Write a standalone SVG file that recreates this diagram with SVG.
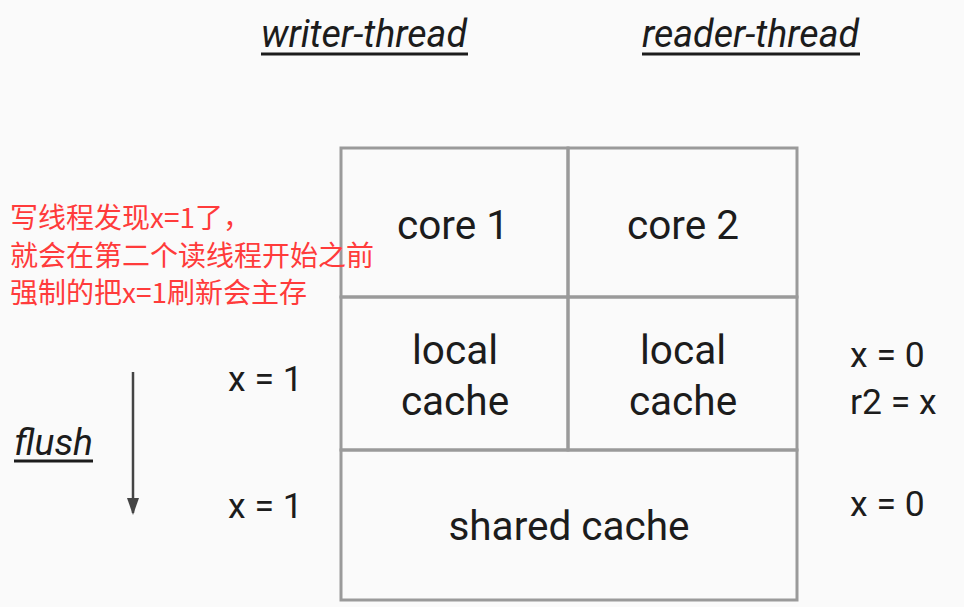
<svg xmlns="http://www.w3.org/2000/svg" width="964" height="607" viewBox="0 0 964 607">
<style>
.t{font-family:Roboto,"Liberation Sans",sans-serif;fill:#1c1c1c;}
.big{font-size:40.5px;}
.mid{font-size:35.5px;}
.ttl{font-size:38px;font-style:italic;}
.box{fill:none;stroke:#9a9a9a;stroke-width:3;}
.ul{stroke:#1c1c1c;stroke-width:3;}
.cn{font-family:"Noto Sans CJK SC",sans-serif;font-size:28px;fill:#ff3b3b;}
</style>
<defs>
<marker id="ah" markerWidth="17" markerHeight="12" refX="15" refY="6" orient="auto" markerUnits="userSpaceOnUse" viewBox="0 0 17 12">
<path d="M0,0 L17,6 L0,12 Z" fill="#444"/>
</marker>
</defs>
<rect width="964" height="607" fill="#fafafa"/>
<g id="title-writer">
<text class="t ttl" x="261" y="47" textLength="206" lengthAdjust="spacingAndGlyphs">writer-thread</text>
<line class="ul" x1="261" y1="54" x2="468" y2="54"/>
</g>
<g id="title-reader">
<text class="t ttl" x="642" y="47" textLength="217" lengthAdjust="spacingAndGlyphs">reader-thread</text>
<line class="ul" x1="642" y1="54" x2="860" y2="54"/>
</g>
<g id="core1">
<rect class="box" x="341" y="148" width="227" height="149"/>
<text class="t big" x="453" y="239" text-anchor="middle">core 1</text>
</g>
<g id="core2">
<rect class="box" x="568" y="148" width="229" height="149"/>
<text class="t big" x="683" y="239" text-anchor="middle">core 2</text>
</g>
<g id="local1">
<rect class="box" x="341" y="297" width="227" height="153"/>
<text class="t big" x="455" y="364" text-anchor="middle">local</text>
<text class="t big" x="455" y="415" text-anchor="middle">cache</text>
</g>
<g id="local2">
<rect class="box" x="568" y="297" width="229" height="153"/>
<text class="t big" x="683" y="364" text-anchor="middle">local</text>
<text class="t big" x="683" y="415" text-anchor="middle">cache</text>
</g>
<g id="shared">
<rect class="box" x="341" y="450" width="456" height="150"/>
<text class="t big" x="569" y="540" text-anchor="middle">shared cache</text>
</g>
<g id="note">
<text class="cn" x="10" y="228">写线程发现x=1了，</text>
<text class="cn" x="10" y="266">就会在第二个读线程开始之前</text>
<text class="cn" x="10" y="303">强制的把x=1刷新会主存</text>
</g>
<g id="writer-values">
<text class="t mid" x="228" y="391">x = 1</text>
<text class="t mid" x="228" y="518">x = 1</text>
</g>
<g id="reader-values">
<text class="t mid" x="850" y="367">x = 0</text>
<text class="t mid" x="850" y="414">r2 = x</text>
<text class="t mid" x="850" y="516">x = 0</text>
</g>
<g id="flush-label">
<text class="t ttl" x="14" y="455" style="font-size:36px" textLength="79" lengthAdjust="spacingAndGlyphs">flush</text>
<line class="ul" x1="14" y1="461" x2="93" y2="461"/>
</g>
<g id="connectors">
<line x1="133" y1="372" x2="133" y2="513" stroke="#444" stroke-width="2.5" marker-end="url(#ah)"/>
</g>
</svg>
